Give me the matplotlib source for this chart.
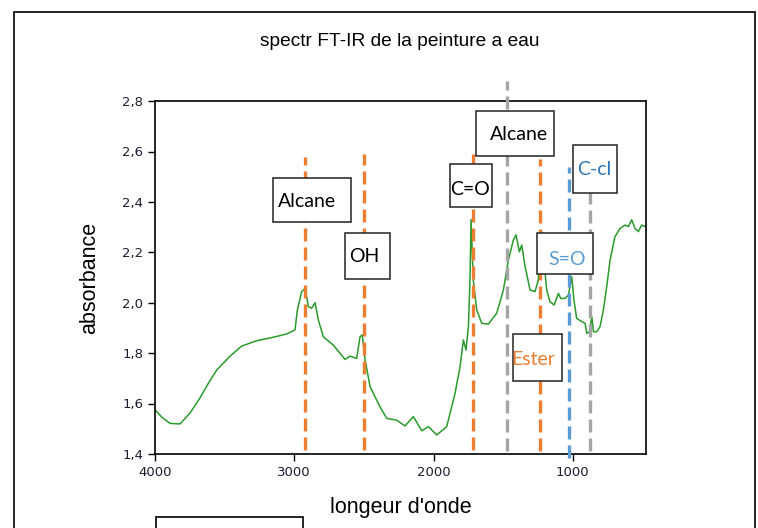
import matplotlib.pyplot as plt
from matplotlib.patches import Rectangle
from matplotlib.ticker import FuncFormatter

# spectre FT-IR, valeurs
wavenumber = [4000, 3950, 3892, 3820, 3749, 3677, 3617, 3557, 3461, 3378, 3270, 3150,
              3054, 2995, 2978, 2947, 2928, 2920, 2899, 2875, 2851, 2827, 2792, 2720,
              2636, 2600, 2552, 2528, 2512, 2492, 2456, 2385, 2336, 2265, 2205, 2145,
              2085, 2037, 1977, 1906, 1846, 1810, 1786, 1767, 1750, 1738, 1731, 1715,
              1690, 1654, 1607, 1547, 1499, 1463, 1427, 1408, 1384, 1367, 1343, 1307,
              1272, 1248, 1225, 1205, 1188, 1164, 1135, 1104, 1087, 1056, 1032, 1008,
              992, 973, 936, 912, 900, 881, 864, 852, 829, 805, 781, 757, 733, 698,
              661, 626, 602, 578, 554, 530, 506, 482, 475]
absorbance = [1.575, 1.545, 1.521, 1.519, 1.562, 1.622, 1.680, 1.733, 1.788, 1.828, 1.849, 1.863,
              1.876, 1.892, 1.971, 2.044, 2.054, 2.053, 1.984, 1.978, 2.000, 1.931, 1.865, 1.832,
              1.775, 1.788, 1.779, 1.865, 1.872, 1.774, 1.667, 1.587, 1.541, 1.534, 1.511, 1.548,
              1.492, 1.508, 1.475, 1.508, 1.640, 1.746, 1.852, 1.812, 1.905, 2.103, 2.330, 2.090,
              1.971, 1.918, 1.915, 1.958, 2.050, 2.169, 2.249, 2.269, 2.202, 2.229, 2.143, 2.050,
              2.044, 2.090, 2.285, 2.150, 2.050, 2.004, 1.991, 2.037, 2.017, 2.017, 2.030, 2.103,
              2.010, 1.938, 1.925, 1.918, 1.878, 1.885, 1.944, 1.885, 1.885, 1.905, 1.971, 2.064,
              2.169, 2.262, 2.295, 2.308, 2.302, 2.329, 2.295, 2.282, 2.308, 2.302, 2.305]

# bandes (position, haut, bas, couleur)
band_pos = [2920, 2500, 1720, 1475, 1235, 1025, 875]
band_top = [2.58, 2.59, 2.59, 2.88, 2.57, 2.54, 2.55]
band_bot = [1.415, 1.415, 1.415, 1.41, 1.41, 1.385, 1.41]
band_col = ['#ED7D31', '#ED7D31', '#ED7D31', '#A5A5A5', '#ED7D31', '#5B9BD5', '#A5A5A5']

# étiquettes (texte, x0, x1, y0, y1, xt, yt, couleur)
lab_text = ['Alcane', 'OH', 'C=O', 'Alcane', 'C-cl', 'S=O', 'Ester']
lab_x0 = [3154, 2633, 1880, 1693, 996, 1260, 1433]
lab_x1 = [2595, 2315, 1582, 1134, 680, 858, 1075]
lab_y0 = [2.320, 2.095, 2.380, 2.583, 2.435, 2.114, 1.690]
lab_y1 = [2.495, 2.278, 2.549, 2.761, 2.626, 2.278, 1.875]
lab_xt = [2910, 2501, 1741, 1390, 845, 1039, 1285]
lab_yt = [2.401, 2.183, 2.450, 2.666, 2.529, 2.172, 1.775]
lab_col = ['black', 'black', 'black', 'black', '#2E75B6', '#5B9BD5', '#ED7D31']

fig = plt.figure(figsize=(7.58, 5.28), dpi=100)

# cadre autour
fig.patches.append(Rectangle((14/758, -0.1), 741/758, 1.1 - 12/528, transform=fig.transFigure,
                             fill=False, edgecolor='black', lw=1.2))
fig.patches.append(Rectangle((155.7/758, -0.1), 147/758, 0.1 + 11.3/528, transform=fig.transFigure,
                             fill=False, edgecolor='black', lw=1.2))

ax = fig.add_axes([155/758, 1 - 453.9/528, 491/758, 352.8/528])
ax.plot(wavenumber, absorbance, color='#2a9a2a', lw=1.1, zorder=2)

for x, t, b, c in zip(band_pos, band_top, band_bot, band_col):
    ax.plot([x, x], [b, t], color=c, lw=2.4, dashes=(3.9, 1.8), clip_on=False, zorder=3)

for s, x0, x1, y0, y1, xt, yt, c in zip(lab_text, lab_x0, lab_x1, lab_y0, lab_y1, lab_xt, lab_yt, lab_col):
    ax.add_patch(Rectangle((x0, y0), x1 - x0, y1 - y0, facecolor='white', edgecolor='#222222',
                           lw=1.1, clip_on=False, zorder=4))
    ax.text(xt, yt, s, color=c, fontsize=14, family='Lato', ha='center', va='center', zorder=5)

ax.set_xlim(4000, 475)
ax.set_ylim(1.4, 2.8)
ax.set_xticks([4000, 3000, 2000, 1000])
ax.set_yticks([1.4, 1.6, 1.8, 2.0, 2.2, 2.4, 2.6, 2.8])
ax.yaxis.set_major_formatter(FuncFormatter(lambda v, p: f"{v:.1f}".replace('.', ',')))
ax.tick_params(direction='out', length=5, width=1, labelsize=9.5, labelcolor='#1c1c30')
for sp in ax.spines.values():
    sp.set_linewidth(1.2)

ax.set_xlabel("longeur d'onde", fontsize=15.5, family='Liberation Sans', labelpad=13)
ax.set_ylabel('absorbance', fontsize=15.5, family='Liberation Sans', labelpad=16)
fig.text(400/758, 1 - 42/528, 'spectr FT-IR de la peinture a eau', fontsize=13.8,
         family='Liberation Sans', ha='center', va='center')

plt.savefig('out.png', dpi=100)
